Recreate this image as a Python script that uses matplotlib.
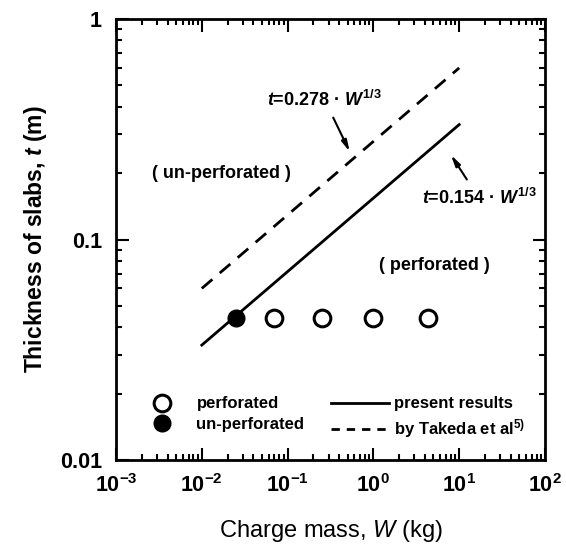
import matplotlib
matplotlib.use("Agg")
import matplotlib.pyplot as plt
from matplotlib.lines import Line2D
from matplotlib.ticker import LogLocator, NullFormatter, FixedLocator, FixedFormatter

plt.rcParams['font.family'] = ['Liberation Sans', 'DejaVu Sans']
plt.rcParams['mathtext.fontset'] = 'custom'
plt.rcParams['mathtext.rm'] = 'Liberation Sans:bold'
plt.rcParams['mathtext.bf'] = 'Liberation Sans:bold'
plt.rcParams['mathtext.it'] = 'Liberation Sans:italic:bold'
plt.rcParams['mathtext.sf'] = 'Liberation Sans:italic'

# test data
W_perf = [0.07, 0.25, 1.0, 4.3]
t_perf = [0.044, 0.044, 0.044, 0.044]
W_unperf = [0.025]
t_unperf = [0.044]

# fitted lines (end points)
W_line = [0.01, 10]
t_present = [0.0332, 0.332]   # t = 0.154 W^(1/3)
t_takeda = [0.060, 0.600]     # t = 0.278 W^(1/3)

x_ticks = [1e-3, 1e-2, 1e-1, 1e0, 1e1, 1e2]
x_ticklabels = ['$10^{-3}$', '$10^{-2}$', '$10^{-1}$', '$10^{0}$', '$10^{1}$', '$10^{2}$']
y_ticks = [0.01, 0.1, 1]
y_ticklabels = ['0.01', '0.1', '1']

fig = plt.figure(figsize=(5.66, 5.48), dpi=100)
ax = fig.add_axes([116 / 566, 88 / 548, 429 / 566, 441 / 548])

ax.plot(W_line, t_present, color='black', lw=2.0)
ax.plot(W_line, t_takeda, color='black', lw=2.0, dashes=(5, 3.5))
ax.plot(W_perf, t_perf, 'o', ms=12, mfc='white', mec='black', mew=2.2, ls='none')
ax.plot(W_unperf, t_unperf, 'o', ms=12, mfc='black', mec='black', ls='none')

ax.set_xscale('log')
ax.set_yscale('log')
ax.set_xlim(1e-3, 1e2)
ax.set_ylim(0.01, 1)

ax.xaxis.set_major_locator(FixedLocator(x_ticks))
ax.xaxis.set_major_formatter(FixedFormatter(x_ticklabels))
ax.yaxis.set_major_locator(FixedLocator(y_ticks))
ax.yaxis.set_major_formatter(FixedFormatter(y_ticklabels))
ax.xaxis.set_minor_locator(LogLocator(base=10, subs=range(2, 10), numticks=20))
ax.yaxis.set_minor_locator(LogLocator(base=10, subs=range(2, 10), numticks=20))
ax.xaxis.set_minor_formatter(NullFormatter())
ax.yaxis.set_minor_formatter(NullFormatter())

ax.tick_params(which='both', direction='in', top=True, right=True, width=1.5)
ax.tick_params(which='major', length=9, pad=10, labelsize=15.5)
ax.tick_params(which='minor', length=4)
for lab in ax.get_xticklabels() + ax.get_yticklabels():
    lab.set_fontweight('bold')
for sp in ax.spines.values():
    sp.set_linewidth(2.0)

ax.set_xlabel('Charge mass, $\\mathsf{W}$ (kg)', fontsize=17, labelpad=15)
ax.set_ylabel('Thickness of slabs, $\\mathit{t}$ (m)', fontsize=16.5,
              fontweight='bold', labelpad=8)

# equation labels with arrows
ax.annotate('$t$=0.278 · $W^{1/3}$', xy=(0.53, 0.25), xytext=(0.27, 0.43),
            ha='center', va='center', fontsize=13, fontweight='bold',
            arrowprops=dict(arrowstyle='-|>,head_length=0.5,head_width=0.12',
                            color='black', lw=1.5, shrinkA=4, shrinkB=0))
ax.annotate('$t$=0.154 · $W^{1/3}$', xy=(8.0, 0.242), xytext=(17, 0.154),
            ha='center', va='center', fontsize=13, fontweight='bold',
            arrowprops=dict(arrowstyle='-|>,head_length=0.5,head_width=0.12',
                            color='black', lw=1.5, shrinkA=5, shrinkB=0))

ax.text(0.0168, 0.2, '( un-perforated )', ha='center', va='center',
        fontsize=13, fontweight='bold')
ax.text(5.2, 0.0766, '( perforated )', ha='center', va='center',
        fontsize=13, fontweight='bold')

handles = [
    Line2D([], [], ls='none', marker='o', ms=12, mfc='white', mec='black', mew=2.2),
    Line2D([], [], ls='none', marker='o', ms=12, mfc='black', mec='black'),
    Line2D([], [], color='black', lw=2.0),
    Line2D([], [], color='black', lw=2.0, dashes=(3, 2.5)),
]
labels = ['perforated', 'un-perforated', 'present results', 'by Takeda et al$^{5)}$']
leg = ax.legend(handles, labels, ncol=2, loc='lower left',
                bbox_to_anchor=(0.04, 0.045), frameon=False,
                prop={'size': 12, 'weight': 'bold'}, handlelength=3.5,
                handletextpad=0.3, columnspacing=1.6, labelspacing=0.35,
                borderpad=0, borderaxespad=0)

fig.savefig('out.png', dpi=100)
